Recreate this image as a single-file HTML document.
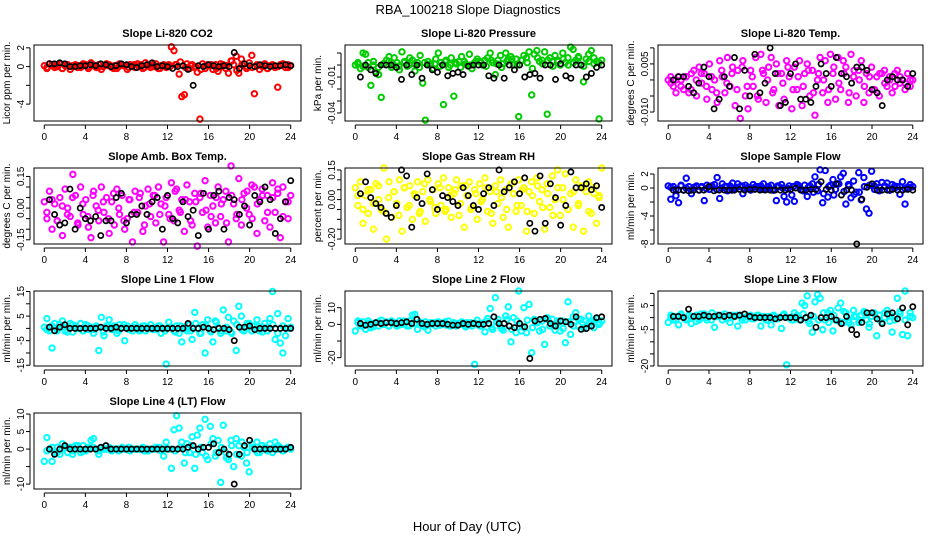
<!DOCTYPE html>
<html><head><meta charset="utf-8"><style>
body{margin:0;background:#fff;}
svg{display:block;font-family:"Liberation Sans",sans-serif;}
</style></head><body>
<svg id="chart" width="936" height="540" viewBox="0 0 936 540">
<text x="468" y="14" text-anchor="middle" font-size="13">RBA_100218  Slope Diagnostics</text>
<text x="467" y="531" text-anchor="middle" font-size="13">Hour of Day (UTC)</text>
</svg>
<script>
const xTicks=[0,4,8,12,16,20,24];
const titles=["Slope Li-820 CO2","Slope Li-820 Pressure","Slope Li-820 Temp.","Slope Amb. Box Temp.","Slope Gas Stream RH","Slope Sample Flow","Slope Line 1 Flow","Slope Line 2 Flow","Slope Line 3 Flow","Slope Line 4 (LT) Flow"];
const yTitles=["Licor ppm per min.","kPa per min.","degrees C per min.","degrees C per min.","percent per min.","ml/min per min.","ml/min per min.","ml/min per min.","ml/min per min.","ml/min per min."];
const colors=["#ff0000","#00cc00","#ff00ff","#ff00ff","#ffff00","#0000ff","#00ffff","#00ffff","#00ffff","#00ffff"];
const yMin=[-5.8,-0.0467,-0.0128,-0.17,-0.225,-8.0,-15.3,-25,-20,-11.4];
const yMax=[2.3,0.0167,0.0109,0.19,0.16,2.86,15.2,20,11,10.3];
const yTickVals=[[-4,-2,0,2],[-0.04,-0.03,-0.02,-0.01,0,0.01],[-0.010,-0.005,0,0.005,0.010],[-0.15,-0.10,-0.05,0,0.05,0.10,0.15],[-0.20,-0.15,-0.10,-0.05,0,0.05,0.10,0.15],[-8,-6,-4,-2,0,2],[-15,-10,-5,0,5,10,15],[-20,-10,0,10],[-20,-15,-10,-5,0,5,10],[-10,-5,0,5,10]];
const yTickLabels=[["-4","","0","2"],["-0.04","","","-0.01","",""],["-0.010","","","0.005",""],["-0.15","","","0.00","","","0.15"],["-0.20","","","","0.00","","","0.15"],["-8","","-4","","0","2"],["-15","","-5","","5","","15"],["-20","","0","10"],["-20","","","-5","","5",""],["-10","","0","5","10"]];
const col0=[0.1,-0.2,0.3,0.2,-0.1,0.2,0.3,-0.2,0.1,0.2,-0.3,0.1,0.2,0.1,-0.1,0.3,0.2,-0.2,0.4,0.1,-0.1,0.2,-0.3,0.1,0.3,0.2,-0.1,0.1,-0.2,0.3,0.2,0.1,-0.3,0.2,0.1,-0.1,0.3,0.2,-0.2,0.4,0.1,-0.1,0.2,0.3,-0.2,0.1,0.2,-0.1,0.2,2.1,1.7,0.2,-0.8,-3.2,-3.0,0.3,-0.2,0.2,-0.1,-0.6,-5.6,0.3,-0.2,0.2,0.1,-0.3,0.2,-0.5,0.3,0.2,-0.2,-0.7,0.6,0.2,1.1,-0.7,0.8,0.3,-0.2,0.4,1.2,-2.9,0.2,-0.3,0.1,0.3,-0.2,0.1,0.2,-0.1,-2.2,0.2,0.3,-0.1,0.2,0.1];
const band0=[-0.1,0.1,0.0,-0.2,0.2,0.0,-0.1,0.1,0.0,0.2,-0.1,0.0,0.1,-0.2,0.0,0.1,-0.1,0.2,0.0,-0.1,0.1,0.0,-0.2,0.1,0.0,0.2,0.5,-0.1,0.1,0.0,-0.3,0.1,0.2,-0.2,0.0,0.1,0.6,-0.4,0.2,0.0,-0.1,0.1,0.0,-0.2,0.1,0.0,0.2,-0.1];
const blk0=[0.3,0.3,0.4,0.3,0.0,0.0,0.1,0.1,0.2,0.1,0.3,0.2,0.0,0.1,0.3,0.2,0.0,-0.1,0.1,0.2,0.4,0.0,0.1,0.0,-0.2,0.0,0.1,-0.3,-2.0,0.1,0.0,0.2,0.1,0.0,0.1,0.0,1.5,-0.2,0.3,0.1,0.0,0.2,0.1,0.0,0.1,0.1,0.2,0.1];
const col1=[0.000,0.002,-0.003,0.010,0.009,-0.002,-0.017,0.003,-0.006,-0.008,-0.027,0.001,0.004,0.007,-0.002,0.006,0.002,-0.004,0.011,0.003,-0.001,0.006,0.004,-0.005,0.002,0.008,-0.015,-0.046,0.003,0.001,-0.003,0.005,0.010,0.002,-0.033,0.004,-0.002,0.006,-0.026,0.001,0.003,0.007,0.003,0.000,0.009,-0.003,0.002,0.005,0.003,0.000,0.004,0.006,0.010,0.002,-0.008,0.004,0.008,0.001,0.010,0.005,0.007,0.000,0.005,-0.043,0.004,0.008,0.006,0.011,-0.025,0.009,0.012,0.003,0.004,0.011,-0.041,0.006,0.003,0.008,0.004,0.000,0.010,0.002,0.006,0.015,0.013,0.004,0.007,0.000,-0.014,0.005,0.009,0.012,0.006,0.003,-0.045,0.004];
const band1=[0.001,-0.001,0.002,0.000,-0.002,0.001,0.003,0.000,-0.001,0.002,0.000,0.001,-0.002,0.002,0.000,0.001,-0.001,0.003,0.000,0.002,-0.002,0.001,0.000,0.003,0.002,-0.001,0.004,0.001,-0.002,0.003,0.005,0.000,0.004,0.002,-0.003,0.006,0.001,0.004,-0.001,0.003,0.005,0.000,0.002,0.006,-0.001,0.003,0.001,0.002];
const blk1=[-0.010,0.000,-0.004,-0.007,0.000,0.000,0.000,-0.002,-0.012,0.000,-0.008,0.000,-0.011,0.000,-0.004,-0.006,0.000,-0.009,-0.007,-0.006,-0.008,-0.001,0.000,0.000,0.000,-0.009,-0.011,0.000,-0.011,0.000,-0.004,0.000,-0.010,-0.008,-0.007,-0.011,0.000,0.000,-0.012,0.001,-0.009,-0.011,0.000,0.000,-0.010,-0.007,-0.002,0.000];
const col2=[0.000,0.001,-0.002,-0.004,0.001,0.000,-0.003,0.001,-0.004,0.002,0.003,-0.005,0.004,-0.001,0.002,-0.006,0.005,-0.003,0.000,-0.007,0.006,0.001,-0.004,0.007,-0.002,0.004,-0.008,0.003,-0.012,0.006,-0.005,-0.009,0.003,-0.002,0.007,-0.006,0.008,0.002,-0.007,0.004,0.007,-0.003,0.005,-0.008,0.002,-0.006,0.006,0.001,-0.009,0.004,-0.003,0.006,-0.008,0.002,0.005,-0.005,0.003,-0.011,0.000,0.007,-0.004,0.006,-0.007,0.008,0.002,-0.006,0.007,-0.003,0.006,0.004,-0.007,0.008,0.001,-0.005,0.003,0.006,-0.007,0.002,-0.004,0.004,-0.003,0.001,-0.005,0.002,0.003,-0.002,0.001,-0.004,0.002,0.003,-0.001,0.000,-0.003,0.002,-0.002,0.000];
const band2=[-0.001,0.000,-0.002,0.001,-0.003,0.000,0.002,-0.002,0.001,-0.004,0.003,-0.001,0.002,-0.003,0.004,-0.002,0.001,-0.005,0.003,0.000,-0.004,0.002,-0.001,0.004,-0.003,0.001,-0.002,0.003,-0.004,0.002,0.000,-0.003,0.004,-0.001,0.002,-0.004,0.003,0.000,-0.002,0.001,-0.003,0.002,-0.001,0.000,-0.002,0.001,-0.001,0.000];
const blk2=[0.000,0.001,0.001,-0.002,-0.004,-0.001,0.004,0.001,-0.009,-0.006,0.001,-0.002,0.007,-0.009,0.003,-0.005,0.008,-0.004,-0.001,0.010,0.002,-0.008,-0.007,0.002,0.005,-0.006,-0.006,-0.007,-0.002,0.005,0.002,-0.002,0.007,0.002,0.001,-0.001,0.004,0.004,0.003,-0.003,-0.004,-0.008,0.000,0.001,0.000,0.000,-0.002,0.002];
const col3=[0.03,-0.05,0.08,-0.10,0.02,-0.06,0.05,-0.13,0.09,0.00,-0.04,0.16,0.06,-0.08,0.10,-0.03,0.04,-0.09,-0.14,0.08,0.01,-0.06,0.10,-0.02,0.05,-0.12,0.03,-0.08,0.09,-0.03,0.06,-0.10,-0.05,0.04,-0.16,0.08,-0.02,0.07,-0.11,0.01,0.09,-0.04,0.06,-0.07,0.10,0.02,-0.16,0.05,-0.03,0.12,-0.06,0.09,-0.01,0.04,-0.11,0.11,0.03,-0.08,0.07,-0.18,0.05,-0.02,0.13,-0.09,0.06,0.01,-0.07,0.10,-0.04,0.04,0.08,-0.16,0.20,0.02,-0.05,0.14,-0.08,0.07,0.00,-0.03,0.11,0.10,-0.12,0.04,0.09,-0.06,0.06,-0.09,0.12,-0.02,0.07,-0.14,0.10,0.03,-0.05,0.06];
const band3=[-0.02,0.04,-0.06,0.01,-0.03,0.05,-0.07,0.02,-0.04,0.06,-0.01,0.03,-0.05,0.07,0.00,-0.06,0.04,-0.02,0.05,-0.08,0.02,0.06,-0.03,0.01,-0.05,0.08,-0.02,0.04,-0.06,0.03,0.07,-0.01,-0.04,0.05,0.02,-0.07,0.06,-0.03,0.04,0.08,-0.05,0.02,0.06,-0.02,0.05,0.09,-0.04,0.03];
const blk3=[0.04,-0.03,-0.08,-0.07,0.09,-0.10,0.00,-0.05,-0.06,-0.04,-0.13,-0.06,-0.06,0.05,0.07,-0.07,-0.03,-0.03,0.01,-0.03,0.03,0.05,-0.10,0.06,-0.05,-0.07,0.03,-0.04,-0.01,-0.13,0.07,-0.10,0.06,0.08,-0.10,0.05,0.04,-0.03,0.01,-0.08,0.06,0.03,0.10,0.04,-0.12,-0.05,0.03,0.13];
const col4=[0.06,-0.03,0.09,-0.12,0.02,-0.07,0.05,-0.15,0.08,0.00,-0.05,0.16,-0.20,0.09,-0.09,0.04,-0.02,0.10,-0.16,0.06,-0.04,0.07,-0.10,0.02,0.09,-0.06,0.04,-0.11,0.10,-0.01,0.05,-0.07,0.08,-0.03,0.11,-0.05,0.06,-0.09,0.03,0.10,-0.08,0.07,-0.14,0.02,0.09,-0.04,0.05,-0.10,0.08,0.00,0.11,-0.06,0.04,-0.12,0.07,-0.02,0.10,-0.09,0.05,-0.14,0.08,0.03,-0.06,0.10,-0.03,0.06,-0.16,0.04,0.09,-0.07,0.11,-0.01,0.05,-0.15,0.08,-0.04,0.12,0.00,0.15,-0.08,0.06,0.13,-0.05,0.03,-0.14,0.10,-0.03,0.07,-0.16,0.04,0.09,-0.07,0.06,-0.12,0.02,0.16];
const band4=[0.02,-0.05,0.05,-0.02,0.07,-0.06,0.01,0.04,-0.08,0.06,-0.03,0.03,-0.07,0.08,0.00,-0.04,0.06,-0.06,0.02,0.05,-0.02,0.07,-0.05,0.03,-0.01,0.06,-0.07,0.04,0.01,-0.05,0.08,-0.03,0.05,-0.06,0.02,0.07,-0.04,0.03,-0.08,0.06,0.00,-0.05,0.04,-0.02,0.06,-0.06,0.03,0.01];
const blk4=[0.03,0.09,0.01,-0.02,-0.04,-0.07,-0.09,-0.03,0.15,0.12,-0.14,0.01,-0.02,0.13,0.05,-0.05,0.02,0.01,-0.01,-0.03,0.06,0.02,-0.03,-0.05,0.03,0.06,-0.03,0.15,0.04,0.06,0.09,0.03,0.11,-0.12,-0.16,0.12,-0.12,0.08,0.01,-0.13,-0.03,0.14,0.06,0.06,0.08,0.05,0.07,-0.04];
const col5=[0.3,-1.6,0.2,-1.1,-2.1,0.4,-0.3,1.4,0.2,-0.8,0.1,0.3,-0.3,0.2,-1.8,0.4,-0.2,0.3,0.5,1.5,-1.5,0.6,0.2,-0.4,0.3,0.7,-0.1,0.6,0.2,-0.8,0.4,0.1,-0.3,0.5,0.2,-0.1,0.3,0.6,-0.2,0.2,0.4,-0.3,-1.8,0.2,0.5,-1.2,-2.0,0.3,-1.0,-1.9,0.5,0.2,-0.3,0.4,-1.2,0.3,0.6,1.6,-0.4,2.6,-2.1,2.5,-1.3,0.4,1.2,-0.2,0.6,1.6,2.1,-2.3,0.5,-1.4,1.0,-0.6,2.2,-1.7,1.5,-3.0,-3.6,2.4,0.3,0.6,-0.4,0.8,0.2,0.7,-0.3,0.5,0.3,0.2,-0.9,0.9,-2.3,0.1,0.5,0.2];
const band5=[0.1,-0.2,0.3,0.0,-0.3,0.2,0.1,-0.1,0.3,-0.2,0.0,0.2,-0.3,0.1,0.3,-0.1,0.0,0.2,-0.2,0.1,-0.3,0.3,0.0,-0.1,0.2,0.4,-0.4,0.1,-0.6,0.5,-0.8,0.2,-1.0,0.6,-0.5,0.3,-0.9,-0.6,0.2,0.4,-0.2,0.1,0.3,-0.3,0.0,0.2,-0.1,0.1];
const blk5=[-0.3,-0.3,-0.3,-0.4,-0.3,-0.3,-0.3,0.2,-0.4,-0.3,-0.3,-0.3,-0.3,-0.2,-0.3,-0.2,-0.2,-0.3,-0.3,-0.3,-0.3,-0.3,-0.3,-0.2,0.0,-0.3,-0.3,-0.2,-0.2,0.9,-0.2,-0.3,0.6,-1.0,-0.3,-0.3,-8.0,-1.6,0.1,0.6,-0.3,-0.3,-0.3,-0.2,-0.3,-0.3,-0.2,-0.3];
const col6=[0.5,4.0,-1.0,-8.0,2.0,-0.5,1.5,3.0,-1.0,0.5,2.0,-1.5,1.0,0.0,2.0,-1.0,1.5,-0.5,0.5,-2.0,1.0,-9.0,4.5,-3.0,1.0,3.5,-0.5,1.0,-2.0,1.5,0.5,-5.0,1.0,0.0,-1.0,1.5,0.5,-0.5,1.0,-1.0,0.5,1.5,-0.5,0.5,1.0,-2.0,0.0,-14.5,2.5,0.5,-1.0,1.0,-2.0,-5.5,0.5,-1.0,1.5,-4.5,6.5,0.0,-2.0,1.5,-10.0,3.5,-1.0,-5.5,3.0,0.5,-2.0,7.5,-1.0,4.5,-1.5,3.0,-9.0,9.0,5.0,-1.0,0.5,2.0,-1.0,1.0,3.5,-1.0,0.5,2.0,-1.0,4.0,15.0,-4.5,6.0,-6.0,-10.0,-3.0,4.0,0.5];
const band6=[-0.5,1.0,-1.0,0.5,-1.5,1.5,0.0,-1.0,1.0,-0.5,0.5,-1.5,1.0,0.0,-1.0,1.5,-0.5,0.5,-1.0,1.0,0.0,-0.5,1.0,-1.0,0.5,-1.5,1.0,0.0,-1.0,2.0,-2.0,1.0,-1.5,2.5,-1.0,0.5,-2.0,1.5,-0.5,2.0,-1.0,1.0,-1.5,0.5,1.5,-2.0,1.0,0.0];
const blk6=[0.5,-1.0,0.5,1.5,0.0,0.0,0.0,0.0,0.0,0.0,0.5,0.0,0.0,0.5,0.0,0.0,0.0,0.0,0.0,0.0,0.0,0.0,0.0,0.0,0.0,0.0,0.0,2.0,0.0,0.0,0.5,0.0,-0.5,0.0,0.0,-0.5,-5.0,0.5,0.5,1.0,-0.5,0.0,0.0,0.0,0.0,0.0,0.0,0.0];
const col7=[-4.0,2.0,-1.0,1.5,-3.0,2.0,-2.0,0.5,1.0,-1.0,2.5,0.0,1.5,-1.0,2.0,0.5,-1.0,2.0,0.0,1.0,-1.0,2.0,5.5,6.0,-3.0,1.0,-0.5,1.5,-3.5,1.0,0.5,-1.0,1.5,0.0,1.0,-0.5,2.0,0.0,1.0,-1.0,0.5,1.5,-0.5,1.0,0.0,-1.0,-24.0,2.5,-1.0,0.5,-4.5,3.5,9.5,-3.0,16.0,3.0,-1.5,-3.5,5.0,10.5,-10.5,4.0,-5.0,20.0,-4.0,10.0,-5.0,12.0,-17.0,3.0,1.0,-4.0,2.0,-12.0,4.0,-1.0,3.0,-3.5,0.5,-4.0,2.0,-11.0,13.5,-6.0,4.5,7.0,-1.0,3.0,-2.5,2.0,5.0,1.0,-2.0,3.5,1.0,2.0];
const band7=[1.0,-1.0,0.5,-1.5,1.5,0.0,-1.0,1.0,-0.5,2.0,-1.0,0.5,1.5,-1.5,0.0,1.0,-0.5,1.5,-1.0,0.5,0.0,-1.5,1.0,0.5,-1.0,2.0,-2.0,1.5,-2.5,3.0,-3.0,2.0,-1.5,2.5,-2.0,1.0,-3.0,3.0,-1.0,2.0,-2.5,1.5,-1.0,3.0,-2.0,1.0,2.5,0.0];
const blk7=[0.5,-0.5,0.0,1.0,0.5,1.0,1.0,0.5,1.0,1.5,0.5,3.0,0.5,0.0,0.5,0.5,0.5,0.0,-0.5,-0.5,0.5,0.0,0.5,0.0,0.0,0.5,4.5,0.5,0.5,-1.0,-2.0,0.5,-1.5,-20.5,2.0,3.0,3.5,0.5,-1.0,2.0,1.5,0.0,4.5,-3.0,-2.5,-1.0,4.0,4.5];
const col8=[-2.0,1.0,-1.0,0.5,-3.0,1.5,0.0,-1.0,1.0,-2.5,0.5,1.0,-1.0,0.0,1.5,-1.0,0.5,2.0,-4.0,1.0,0.5,-1.0,1.5,0.0,-2.0,1.0,0.5,-3.5,1.0,0.0,-1.0,0.5,1.0,-0.5,0.0,1.0,-3.5,0.5,-1.0,0.5,-3.0,1.0,-0.5,0.0,-4.5,1.5,-19.5,0.0,-1.0,2.0,1.0,-1.0,6.0,5.0,9.0,-2.5,-6.0,6.5,9.5,8.0,-5.0,-1.0,2.0,3.0,-5.5,-1.0,4.0,6.0,-2.0,2.0,-1.0,-3.0,3.0,0.5,-2.0,1.0,2.5,-1.0,-4.0,0.5,2.0,-7.5,1.0,-2.0,0.0,3.0,1.5,-6.0,-1.0,8.0,2.5,-7.0,11.0,-7.5,2.0,0.0];
const band8=[0.0,-1.0,1.0,-0.5,0.5,-1.5,1.5,0.0,-1.0,0.5,1.0,-0.5,0.0,1.0,-1.0,0.5,-0.5,1.0,0.0,-1.0,0.5,-0.5,1.0,0.0,-1.0,0.5,1.5,-1.5,0.5,-1.0,2.0,-2.0,1.0,-1.5,2.5,-2.0,0.5,-1.0,2.0,-2.5,1.5,-1.0,2.0,-1.5,0.5,1.5,-1.0,0.5];
const blk8=[0.5,0.5,0.0,3.5,0.5,0.5,1.0,0.5,0.5,1.0,0.5,1.0,0.5,1.0,1.5,0.5,0.0,0.0,0.0,0.0,-0.5,0.0,0.0,0.0,0.0,-1.0,0.0,1.0,-4.0,0.0,0.0,0.5,-1.0,-2.5,0.5,-5.0,-7.0,-2.0,2.0,2.0,-0.5,-2.5,1.5,2.0,-0.5,4.0,-3.0,4.5];
const col9=[-3.5,3.3,0.0,-3.5,-1.0,0.5,-1.5,1.5,0.5,-1.0,0.5,-0.5,1.0,0.0,-1.0,1.0,-0.5,0.5,2.5,3.0,0.0,-1.5,0.5,0.0,0.0,0.5,-0.5,0.0,0.0,0.0,0.5,0.0,0.0,-0.5,0.0,0.0,0.0,0.0,0.5,0.0,-0.5,0.0,0.0,0.5,0.0,-0.5,-2.0,2.0,0.0,-5.5,5.5,9.5,6.0,2.0,-4.0,1.5,-1.0,3.5,-5.5,4.0,6.0,-1.0,8.5,-3.0,6.5,3.0,-2.0,2.5,-9.5,6.8,-1.0,-3.0,2.5,-5.0,3.0,1.0,-2.0,0.5,-4.0,-6.5,1.5,0.0,2.0,-1.0,1.0,0.5,0.0,1.5,-1.0,2.0,0.0,0.5,-0.5,0.0,0.5,0.0];
const band9=[-0.5,0.5,-1.0,0.0,0.5,-1.5,1.0,-0.5,0.0,0.5,-0.5,0.0,0.0,0.0,-0.5,0.0,0.5,0.0,0.0,-0.5,0.0,0.0,0.5,0.0,0.0,-0.5,0.5,-1.0,1.0,-1.5,0.5,-2.0,1.5,-1.0,0.5,-2.5,1.0,-1.5,2.0,-1.0,0.5,-1.0,1.0,-0.5,0.0,1.0,-0.5,0.5];
const blk9=[0.0,-1.5,0.0,1.0,0.0,0.0,0.0,0.0,0.0,0.0,0.5,1.0,0.0,0.0,0.0,0.0,0.0,0.0,0.0,0.0,0.0,0.0,0.0,0.0,0.0,0.0,0.0,0.5,1.0,0.0,0.5,0.5,1.5,-1.0,0.0,-1.5,-10.0,-1.5,1.0,2.5,0.0,0.0,0.0,0.0,0.0,0.0,0.0,0.5];
const colored=[col0,col1,col2,col3,col4,col5,col6,col7,col8,col9];
const bands=[band0,band1,band2,band3,band4,band5,band6,band7,band8,band9];
const black=[blk0,blk1,blk2,blk3,blk4,blk5,blk6,blk7,blk8,blk9];

const NS="http://www.w3.org/2000/svg";
const svg=document.getElementById('chart');
const colLeft=[34,345,658],colRight=[301,612,923];
const rowTop=[45,168,291,413],rowBot=[121,244,366,489];
function mk(tag,attrs,parent){const e=document.createElementNS(NS,tag);for(const k in attrs)e.setAttribute(k,attrs[k]);(parent||svg).appendChild(e);return e;}
for(let p=0;p<10;p++){
  const r=Math.floor(p/3),c=p%3;
  const L=colLeft[c],R=colRight[c],T=rowTop[r],B=rowBot[r];
  const pad=(R-L)/25.92;
  const xs=h=>L+pad+(h/24)*(R-L-2*pad);
  const ys=v=>B-(v-yMin[p])/(yMax[p]-yMin[p])*(B-T);
  const g=mk('g',{});
  
  
  const t=mk('text',{x:(L+R)/2,y:T-8,'text-anchor':'middle','font-size':'11','font-weight':'bold'},g);
  
  
  t.textContent=titles[p];
  const yt=mk('text',{transform:'translate('+(L-24)+','+((T+B)/2)+') rotate(-90)','text-anchor':'middle','font-size':'10'},g);
  
  
  yt.textContent=yTitles[p];
  const bd=bands[p];
  bd.forEach((v,i)=>{
    const pt=mk('circle',{cx:xs(24*(i+0.5)/bd.length),cy:ys(v),r:2.7,fill:'none',stroke:colors[p],'stroke-width':2},g);
    
    
  });
  const cs=colored[p];
  cs.forEach((v,i)=>{
    const pt=mk('circle',{cx:xs(24*i/(cs.length-1)),cy:ys(v),r:2.7,fill:'none',stroke:colors[p],'stroke-width':2},g);
    
    
  });
  const bs=black[p];
  bs.forEach((v,i)=>{
    const pt=mk('circle',{cx:xs(24*(i+1)/bs.length),cy:ys(v),r:2.6,fill:'none',stroke:'#000','stroke-width':1.7},g);
    
    
  });
  const box=mk('rect',{x:L,y:T,width:R-L,height:B-T,fill:'none',stroke:'#000','stroke-width':1},g);
  
  
  const xa=mk('line',{x1:xs(0),x2:xs(24),y1:B+4,y2:B+4,stroke:'#000'},g);
  
  
  xTicks.forEach(h=>{
    mk('line',{x1:xs(h),x2:xs(h),y1:B+4,y2:B+8,stroke:'#000'},g);
    const lb=mk('text',{x:xs(h),y:B+19,'text-anchor':'middle','font-size':'10'},g);
    
    
    lb.textContent=h;
  });
  const tv=yTickVals[p];
  const ya=mk('line',{x1:L-4,x2:L-4,y1:ys(tv[0]),y2:ys(tv[tv.length-1]),stroke:'#000'},g);
  
  
  tv.forEach((v,i)=>{
    mk('line',{x1:L-8,x2:L-4,y1:ys(v),y2:ys(v),stroke:'#000'},g);
    const s=yTickLabels[p][i];
    if(s){
      const lb=mk('text',{transform:'translate('+(L-10)+','+ys(v)+') rotate(-90)','text-anchor':'middle','font-size':'10'},g);
      
      
      lb.textContent=s;
    }
  });
}
</script>
</body></html>
